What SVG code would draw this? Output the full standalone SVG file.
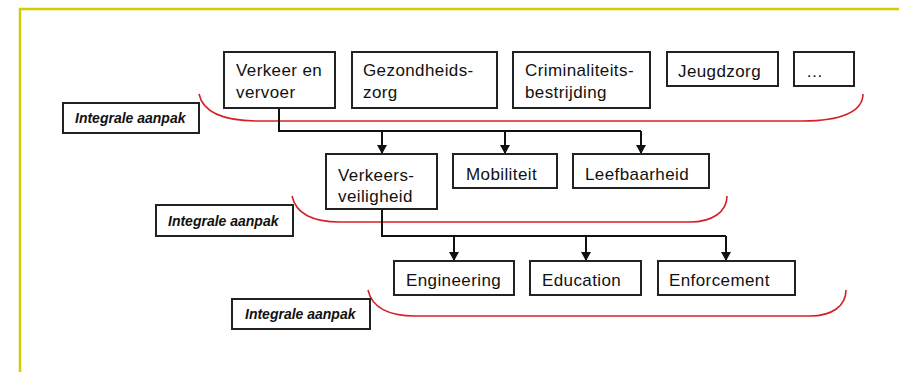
<svg xmlns="http://www.w3.org/2000/svg" width="899" height="372" viewBox="0 0 899 372">
<style>
.box{fill:#fff;stroke:#222;stroke-width:2}
.t{font-family:"Liberation Sans",Arial,sans-serif;font-size:17px;letter-spacing:0.4px;fill:#111}
.lab{font-family:"Liberation Sans",Arial,sans-serif;font-size:14px;font-weight:bold;font-style:italic;fill:#111}
.con{fill:none;stroke:#111;stroke-width:2}
.red{fill:none;stroke:#d62027;stroke-width:1.6}
</style>
<defs>
<marker id="ah" markerUnits="userSpaceOnUse" markerWidth="10" markerHeight="10" refX="9" refY="5" orient="auto">
<path d="M0,0 L9,5 L0,10 Z" fill="#111"/>
</marker>
</defs>
<rect width="899" height="372" fill="#fff"/>
<path d="M20,372 V9 H899" fill="none" stroke="#d4cc00" stroke-width="2.5"/>
<g id="curves">
<path class="red" d="M199,94 C203,112 222,121 258,121 L803,121 C840,121 863,112 863,94"/>
<path class="red" d="M292,196 C296,214 313,222 340,222 L690,222 C712,222 727,212 727,196"/>
<path class="red" d="M368,290 C372,308 390,316 415,316 L810,316 C832,316 846,306 846,290"/>
</g>
<g id="connectors">
<path class="con" d="M279,108 V131 H641"/>
<path class="con" d="M382,131 V154" marker-end="url(#ah)"/>
<path class="con" d="M505,131 V154" marker-end="url(#ah)"/>
<path class="con" d="M641,131 V154" marker-end="url(#ah)"/>
<path class="con" d="M382,209 V236 H726"/>
<path class="con" d="M454,236 V261" marker-end="url(#ah)"/>
<path class="con" d="M586,236 V261" marker-end="url(#ah)"/>
<path class="con" d="M726,236 V261" marker-end="url(#ah)"/>
</g>
<g id="verkeer"><rect class="box" x="224" y="52" width="111" height="56"/><text class="t" x="236" y="76">Verkeer en</text><text class="t" x="236" y="98">vervoer</text></g>
<g id="gezondheid"><rect class="box" x="352" y="52" width="145" height="56"/><text class="t" x="363" y="76">Gezondheids-</text><text class="t" x="363" y="98">zorg</text></g>
<g id="criminaliteit"><rect class="box" x="513" y="52" width="137" height="56"/><text class="t" x="525" y="76">Criminaliteits-</text><text class="t" x="525" y="98">bestrijding</text></g>
<g id="jeugdzorg"><rect class="box" x="667" y="52" width="111" height="34"/><text class="t" x="678" y="77">Jeugdzorg</text></g>
<g id="etc"><rect class="box" x="794" y="52" width="60" height="34"/><text class="t" x="806" y="77">…</text></g>
<g id="label1"><rect class="box" x="63" y="103" width="136" height="30"/><text class="lab" x="75" y="123">Integrale aanpak</text></g>
<g id="veiligheid"><rect class="box" x="326" y="154" width="111" height="55"/><text class="t" x="338" y="181">Verkeers-</text><text class="t" x="338" y="202">veiligheid</text></g>
<g id="mobiliteit"><rect class="box" x="453" y="154" width="104" height="34"/><text class="t" x="466" y="180">Mobiliteit</text></g>
<g id="leefbaarheid"><rect class="box" x="573" y="154" width="136" height="34"/><text class="t" x="585" y="180">Leefbaarheid</text></g>
<g id="label2"><rect class="box" x="156" y="205" width="137" height="31"/><text class="lab" x="168" y="226">Integrale aanpak</text></g>
<g id="engineering"><rect class="box" x="394" y="261" width="120" height="34"/><text class="t" x="406" y="286">Engineering</text></g>
<g id="education"><rect class="box" x="530" y="261" width="111" height="34"/><text class="t" x="542" y="286">Education</text></g>
<g id="enforcement"><rect class="box" x="658" y="261" width="137" height="34"/><text class="t" x="669" y="286">Enforcement</text></g>
<g id="label3"><rect class="box" x="232" y="299" width="138" height="30"/><text class="lab" x="245" y="319">Integrale aanpak</text></g>
</svg>
